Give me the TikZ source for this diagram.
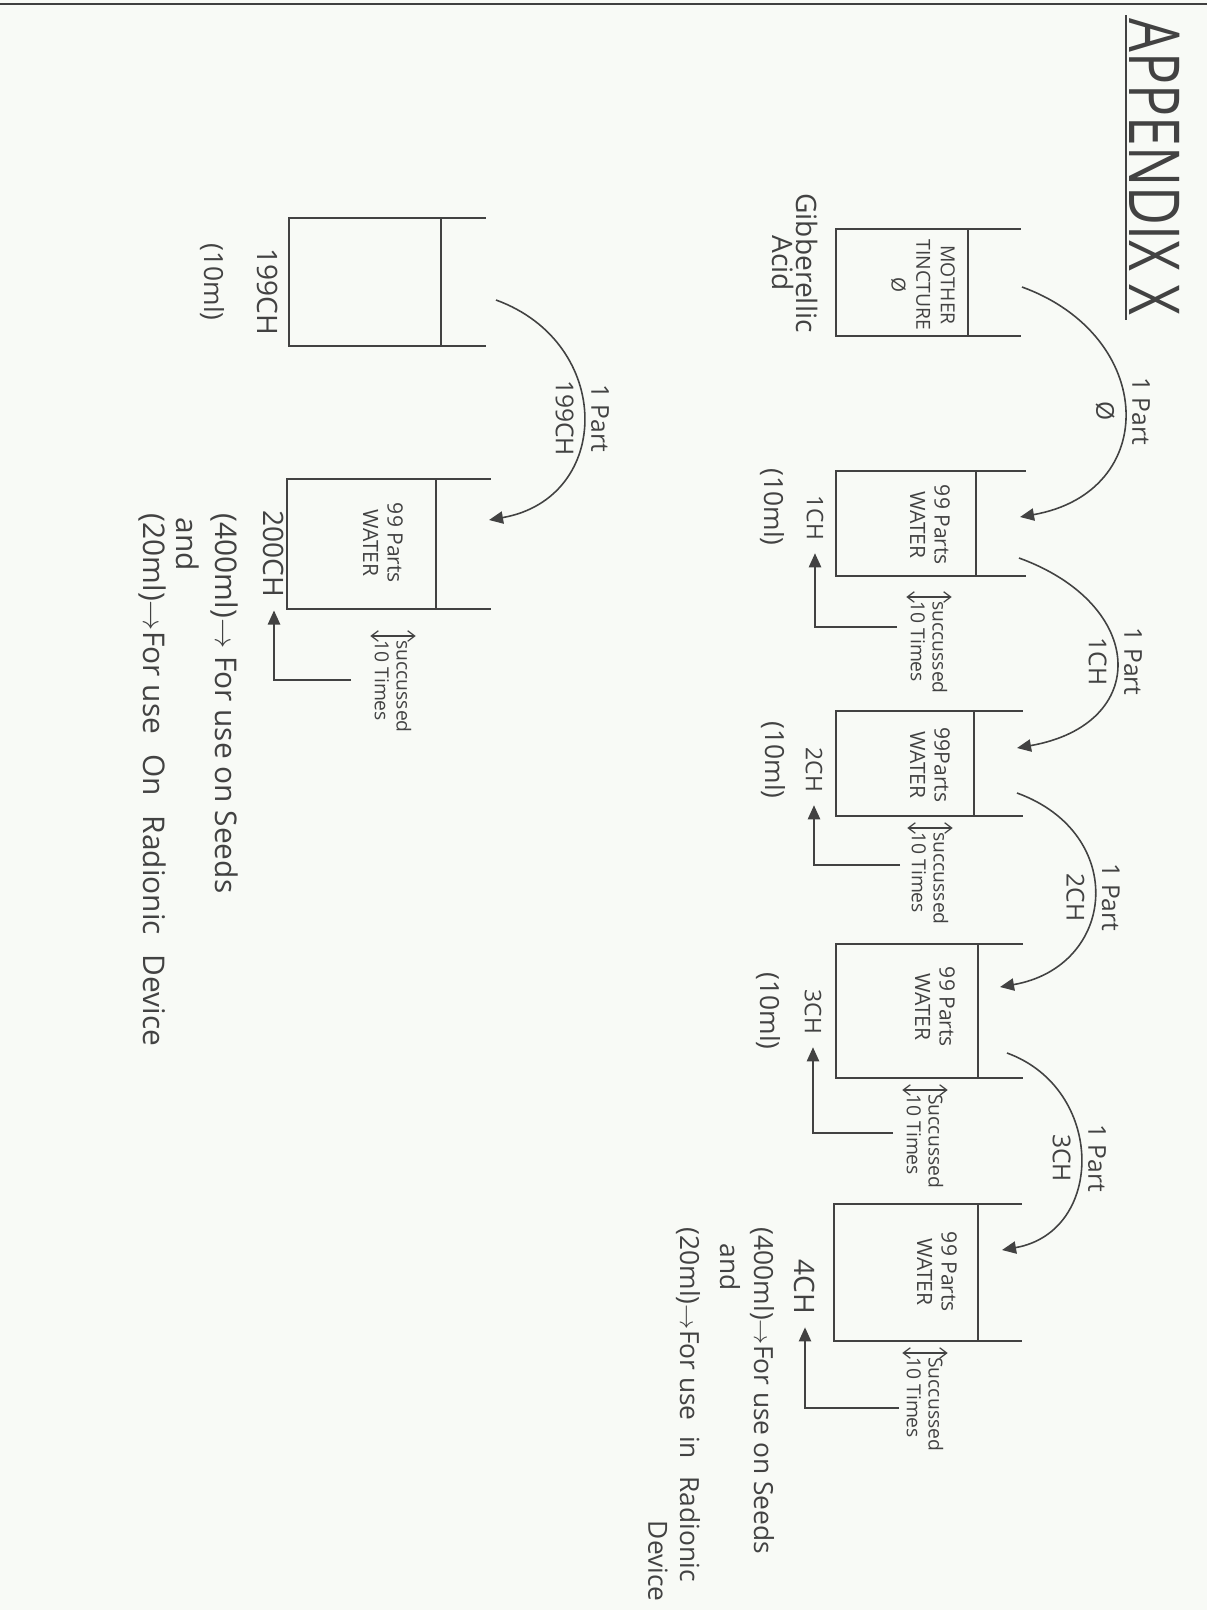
\documentclass[tikz,border=0pt]{standalone}
\usepackage{fontspec}
\setmainfont{Open Sans}
\newfontfamily\titlefont[FakeStretch=0.76]{Open Sans}
\usetikzlibrary{positioning,arrows.meta,calc}
\definecolor{paper}{RGB}{248,250,246}
\definecolor{pencil}{RGB}{66,66,66}

\begin{document}
\begin{tikzpicture}[rotate=-90, transform shape, x=0.02cm, y=0.02cm,
                    color=pencil, line width=0.9pt,
                    >={Triangle[length=8pt,width=7pt]},
                    liquid/.style={rectangle, inner sep=0pt},
                    water/.style={align=center, font=\fontsize{12}{14}\selectfont, inner sep=1pt},
                    potency/.style={font=\fontsize{13}{15}\selectfont, inner sep=2pt},
                    volume/.style={font=\fontsize{15}{17}\selectfont, inner sep=1pt},
                    part/.style={font=\fontsize{14}{16}\selectfont, inner sep=1pt},
                    shaken/.style={align=left, anchor=west, font=\fontsize{11}{12.5}\selectfont, inner sep=2pt},
                    shake/.style={{Straight Barb[length=4pt,width=6pt]}-{Straight Barb[length=4pt,width=6pt]}, line width=0.7pt},
                    usage/.style={anchor=west, font=\fontsize{15}{17}\selectfont, inner sep=0pt}]
    \fill[paper] (0,0) rectangle (1610,1207);
    \useasboundingbox (0,0) rectangle (1610,1207);
    \draw[black!75, line width=1.5pt] (4,0) -- (4,1207);

    % Title
    \node[font=\titlefont\fontsize{40}{40}\selectfont, inner sep=0pt] (title) at (167,1155) {APPENDIX X};
    \draw ($(title.south west)+(-2,-3)$) -- ($(title.south east)+(3,-3)$);

    % Beakers
    \node[liquid, minimum width=2.1cm, minimum height=2.6cm] (b0) at (282.5,902) {};
    \node[liquid, minimum width=2.06cm, minimum height=2.76cm] (b1) at (523.5,906) {};
    \node[liquid, minimum width=2.06cm, minimum height=2.72cm] (b2) at (763.5,905) {};
    \node[liquid, minimum width=2.64cm, minimum height=2.8cm] (b3) at (1011,907) {};
    \node[liquid, minimum width=2.7cm, minimum height=2.84cm] (b4) at (1272.5,906) {};
    \node[liquid, minimum width=2.52cm, minimum height=3cm] (b199) at (282,365) {};
    \node[liquid, minimum width=2.56cm, minimum height=2.94cm] (b200) at (544,361.5) {};

    \draw (b0.north west) ++(0,53) -- (b0.south west) -- (b0.south east) -- (b0.north east) -- ++(0,53) (b0.north west) -- (b0.north east);
    \draw (b1.north west) ++(0,50) -- (b1.south west) -- (b1.south east) -- (b1.north east) -- ++(0,50) (b1.north west) -- (b1.north east);
    \draw (b2.north west) ++(0,49) -- (b2.south west) -- (b2.south east) -- (b2.north east) -- ++(0,49) (b2.north west) -- (b2.north east);
    \draw (b3.north west) ++(0,45) -- (b3.south west) -- (b3.south east) -- (b3.north east) -- ++(0,45) (b3.north west) -- (b3.north east);
    \draw (b4.north west) ++(0,44) -- (b4.south west) -- (b4.south east) -- (b4.north east) -- ++(0,44) (b4.north west) -- (b4.north east);
    \draw (b199.north west) ++(0,45) -- (b199.south west) -- (b199.south east) -- (b199.north east) -- ++(0,45) (b199.north west) -- (b199.north east);
    \draw (b200.north west) ++(0,55) -- (b200.south west) -- (b200.south east) -- (b200.north east) -- ++(0,55) (b200.north west) -- (b200.north east);

    % Contents
    \node[water, font=\fontsize{11}{14}\selectfont] (t0) at (285,923) {MOTHER\\TINCTURE\\Ø};
    \node[water] (t1) at (525,930) {99 Parts\\WATER};
    \node[water] (t2) at (765,930) {99Parts\\WATER};
    \node[water] (t3) at (1007,935) {99 Parts\\WATER};
    \node[water] (t4) at (1272,937) {99 Parts\\WATER};
    \node[water] (t200) at (543,383) {99 Parts\\WATER};

    \node[align=center, font=\fontsize{16}{14}\selectfont] (gib) at (263,795) {Gibberellic\\Acid};

    % Potencies and volumes
    \node[potency] (n1) at (518,815) {1CH};
    \node[potency] (n2) at (770,814) {2CH};
    \node[potency] (n3) at (1012,813) {3CH};
    \node[potency, font=\fontsize{16}{18}\selectfont] (n4) at (1287,805) {4CH};
    \node[potency, font=\fontsize{16}{18}\selectfont] (n199) at (292,268) {199CH};
    \node[potency, font=\fontsize{16}{18}\selectfont] (n200) at (554,274) {200CH};
    \node[volume] (v1) at (507,772) {(10ml)};
    \node[volume] (v2) at (760,773) {(10ml)};
    \node[volume] (v3) at (1011,768) {(10ml)};
    \node[volume] (v199) at (282,212) {(10ml)};

    \node[usage] (u4a) at (1227,762) {(400ml)$\rightarrow$For use on Seeds};
    \node[usage] (u4b) at (1243,730) {and};
    \node[usage] (u4c) at (1227,688) {(20ml)$\rightarrow$For use\hspace{5pt} in\hspace{6pt} Radionic};
    \node[usage] (u4d) at (1520,658) {Device};

    \node[usage, font=\fontsize{17}{19}\selectfont] (u200a) at (513,224) {(400ml)$\rightarrow$ For use on Seeds};
    \node[usage, font=\fontsize{17}{19}\selectfont] (u200b) at (517,188) {and};
    \node[usage, font=\fontsize{17}{19}\selectfont] (u200c) at (513,152) {(20ml)$\rightarrow$For use\hspace{7pt} On\hspace{7pt} Radionic\hspace{7pt} Device};

    % Succussion
    \node[shaken] (s1) at (597,929) {succussed\\10 Times};
    \node[shaken] (s2) at (828,930) {succussed\\10 Times};
    \node[shaken] (s3) at (1090,925) {Succussed\\10 Times};
    \node[shaken] (s4) at (1353,925) {Succussed\\10 Times};
    \node[shaken] (s200) at (636,393) {succussed\\10 Times};
    \draw[shake] (s1.north west) -- (s1.south west);
    \draw[shake] (s2.north west) -- (s2.south west);
    \draw[shake] (s3.north west) -- (s3.south west);
    \draw[shake] (s4.north west) -- (s4.south west);
    \draw[shake] (s200.north west) -- (s200.south west);

    \coordinate (r1) at (627,897);   \coordinate (c1) at (627,815);
    \coordinate (r2) at (865,900);   \coordinate (c2) at (865,814);
    \coordinate (r3) at (1133,893);  \coordinate (c3) at (1133,813);
    \coordinate (r4) at (1408,899);  \coordinate (c4) at (1408,805);
    \coordinate (r200) at (680,351); \coordinate (c200) at (680,274);
    \draw[->, shorten >=5pt] (r1) -- (c1) -- (n1);
    \draw[->, shorten >=5pt] (r2) -- (c2) -- (n2);
    \draw[->, shorten >=5pt] (r3) -- (c3) -- (n3);
    \draw[->, shorten >=5pt] (r4) -- (c4) -- (n4);
    \draw[->, shorten >=5pt] (r200) -- (c200) -- (n200);

    % Transfers
    \coordinate (m0) at (287,1022);   \coordinate (i1) at (517,1020);
    \coordinate (m1) at (558,1019);   \coordinate (i2) at (748,1017);
    \coordinate (m2) at (793,1017);   \coordinate (i3) at (987,1000);
    \coordinate (m3) at (1053,1007);  \coordinate (i4) at (1250,1002);
    \coordinate (m199) at (300,496);  \coordinate (i200) at (520,489);
    \draw[->] (m0) to[out=70, in=100, looseness=1.59] node[part, above=3pt] {1 Part} node[part, below=4pt] {Ø} (i1);
    \draw[->] (m1) to[out=70, in=100, looseness=1.83] node[part, above=3pt] {1 Part} node[part, below=4pt] {1CH} (i2);
    \draw[->] (m2) to[out=70, in=100, looseness=1.56] node[part, above=3pt] {1 Part} node[part, below=4pt] {2CH} (i3);
    \draw[->] (m3) to[out=70, in=100, looseness=1.36] node[part, above=3pt] {1 Part} node[part, below=4pt] {3CH} (i4);
    \draw[->] (m199) to[out=70, in=100, looseness=1.46] node[part, above=3pt] {1 Part} node[part, below=4pt] {199CH} (i200);
\end{tikzpicture}
\end{document}
